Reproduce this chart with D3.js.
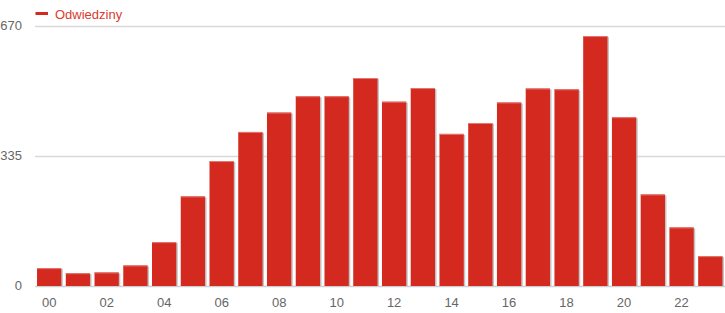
<!DOCTYPE html>
<html>
<head>
<meta charset="utf-8">
<script src="https://cdn.jsdelivr.net/npm/d3@7"></script>
<style>
  body { margin: 0; background: #fff; }
  svg { display: block; font-family: Arial, "Liberation Sans", sans-serif; }
</style>
</head>
<body>
<div id="chart"></div>
<script>
// hours of the day
var hours = ["00","01","02","03","04","05","06","07","08","09","10","11",
             "12","13","14","15","16","17","18","19","20","21","22","23"];
// visits per hour
var visits = [46, 33, 35, 53, 113, 231, 322, 397, 447, 489, 489, 536,
              475, 510, 392, 420, 473, 509, 507, 644, 435, 236, 151, 77];
var yTicks = [0, 335, 670];
var seriesName = "Odwiedziny";

var width = 725, height = 313;
var margin = {top: 26, right: 0, bottom: 27, left: 35};
var red = "#d4291f";

var svg = d3.select("#chart")
  .append("svg")
  .attr("width", width)
  .attr("height", height);

var x = d3.scaleBand()
  .domain(hours)
  .range([34.8, 724.7])
  .paddingInner(0.155)
  .paddingOuter(0.0775);

var y = d3.scaleLinear()
  .domain([0, 670])
  .range([height - margin.bottom, margin.top]);

// gridlines
svg.append("g")
  .selectAll("line")
  .data(yTicks)
  .enter()
  .append("line")
    .attr("x1", margin.left)
    .attr("x2", width)
    .attr("y1", d => y(d) + 0.5)
    .attr("y2", d => y(d) + 0.5)
    .attr("stroke", d => d === 0 ? "#cfcfcf" : "#d9d9d9")
    .attr("stroke-width", 1.5);

// y labels
var yAxis = svg.append("g")
  .attr("transform", "translate(22,0)")
  .call(d3.axisLeft(y).tickValues(yTicks).tickSize(0).tickPadding(0));
yAxis.select(".domain").remove();
yAxis.selectAll("text")
  .attr("font-size", 13)
  .attr("font-family", "Arial, 'Liberation Sans', sans-serif")
  .attr("fill", "#666")
  .attr("dy", "0.28em");

// bar shadows
svg.append("g")
  .selectAll("rect")
  .data(visits)
  .enter()
  .append("rect")
    .attr("x", (d, i) => x(hours[i]) + 1.5)
    .attr("y", d => y(d) + 1)
    .attr("width", x.bandwidth())
    .attr("height", d => y(0) - y(d) - 1)
    .attr("fill", "#b5b5b5")
    .attr("opacity", 0.8);

// bars
svg.append("g")
  .selectAll("rect")
  .data(visits)
  .enter()
  .append("rect")
    .attr("x", (d, i) => x(hours[i]))
    .attr("y", d => y(d))
    .attr("width", x.bandwidth())
    .attr("height", d => y(0) - y(d))
    .attr("fill", red);

// lighter top edge
svg.append("g")
  .selectAll("line")
  .data(visits)
  .enter()
  .append("line")
    .attr("x1", (d, i) => x(hours[i]))
    .attr("x2", (d, i) => x(hours[i]) + x.bandwidth())
    .attr("y1", d => y(d) + 0.5)
    .attr("y2", d => y(d) + 0.5)
    .attr("stroke", "#e27a72")
    .attr("stroke-width", 1);

// x labels, every second hour
var xAxis = svg.append("g")
  .attr("transform", "translate(0," + (height - margin.bottom) + ")")
  .call(d3.axisBottom(x)
    .tickValues(hours.filter((h, i) => i % 2 === 0))
    .tickSize(0)
    .tickPadding(12));
xAxis.select(".domain").remove();
xAxis.selectAll("text")
  .attr("font-size", 13)
  .attr("font-family", "Arial, 'Liberation Sans', sans-serif")
  .attr("fill", "#666");

// legend
var legend = svg.append("g");
legend.append("line")
  .attr("x1", 35.5).attr("x2", 48)
  .attr("y1", 13.5).attr("y2", 13.5)
  .attr("stroke", red)
  .attr("stroke-width", 3);
legend.append("text")
  .attr("x", 55)
  .attr("y", 18.5)
  .attr("font-size", 13)
  .attr("fill", "#db3b30")
  .text(seriesName);
</script>
</body>
</html>
